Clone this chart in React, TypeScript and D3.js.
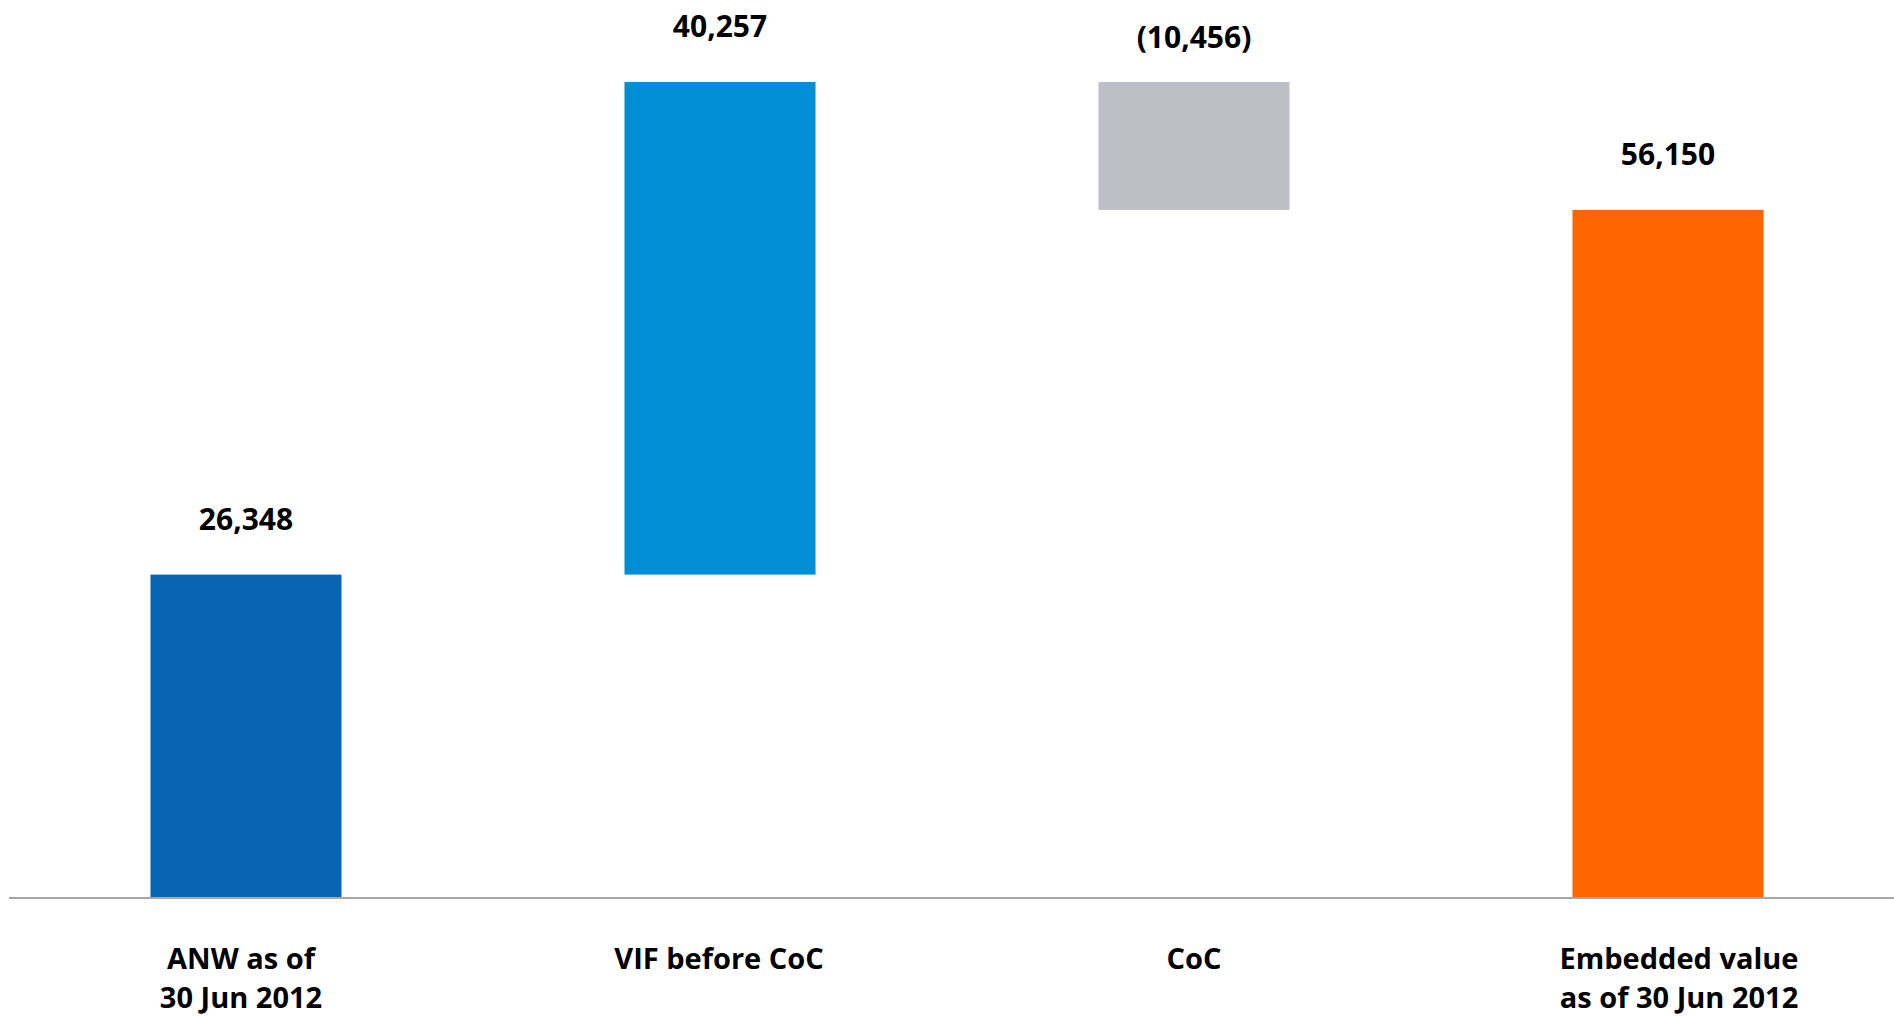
import React from "react";
import * as d3 from "d3";

const categories = ["ANW", "VIF", "CoC", "EV"];
const categoryLabels: string[][] = [
  ["ANW as of", "30 Jun 2012"],
  ["VIF before CoC"],
  ["CoC"],
  ["Embedded value", "as of 30 Jun 2012"],
];
const values = [26348, 40257, -10456, 56150];
const isTotal = [true, false, false, true];
const colors = ["#0a64b4", "#008fd5", "#bdbec6", "#ff6600"];

// layout tweak: small horizontal nudges of category labels (px)
const LABEL_NUDGE = [-5, -1, 0, 11];

const W = 1894;
const H = 1016;

export default function App() {
  const x = d3
    .scaleBand<string>()
    .domain(categories)
    .range([9, 1905])
    .paddingInner(0.597)
    .paddingOuter(0.2985);

  let running = 0;
  const bars = values.map((v, i) => {
    let y0: number, y1: number;
    if (isTotal[i]) {
      y0 = 0;
      y1 = v;
      running = v;
    } else {
      y0 = running;
      y1 = running + v;
      running = y1;
    }
    return { lo: Math.min(y0, y1), hi: Math.max(y0, y1), v, i };
  });
  const maxHi = d3.max(bars, (b) => b.hi) as number;
  const y = d3.scaleLinear().domain([0, maxHi]).range([897, 82]);

  const fmt = d3.format(",");
  const label = (v: number) => (v < 0 ? `(${fmt(-v)})` : fmt(v));
  const font = "'Open Sans', 'Noto Sans', sans-serif";

  return (
    <svg
      width={W}
      height={H}
      style={{ position: "absolute", left: 0, top: 0, background: "#fff" }}
    >
      {bars.map((b) => (
        <rect
          key={b.i}
          x={x(categories[b.i])}
          y={y(b.hi)}
          width={x.bandwidth()}
          height={y(b.lo) - y(b.hi)}
          fill={colors[b.i]}
        />
      ))}
      <line x1={9} x2={W} y1={898} y2={898} stroke="#a6a6a6" strokeWidth={2} />
      {bars.map((b) => (
        <text
          key={"v" + b.i}
          x={(x(categories[b.i]) as number) + x.bandwidth() / 2}
          y={y(b.hi) - (b.v < 0 ? 34 : 45)}
          textAnchor="middle"
          fontFamily={font}
          fontWeight="bold"
          fontSize={30}
          fill="#000"
        >
          {label(b.v)}
        </text>
      ))}
      {categoryLabels.map((lines, i) =>
        lines.map((ln, j) => (
          <text
            key={"c" + i + "_" + j}
            x={(x(categories[i]) as number) + x.bandwidth() / 2 + LABEL_NUDGE[i]}
            y={969 + j * 38.5}
            textAnchor="middle"
            fontFamily={font}
            fontWeight="bold"
            fontSize={29}
            fill="#000"
          >
            {ln}
          </text>
        ))
      )}
    </svg>
  );
}
